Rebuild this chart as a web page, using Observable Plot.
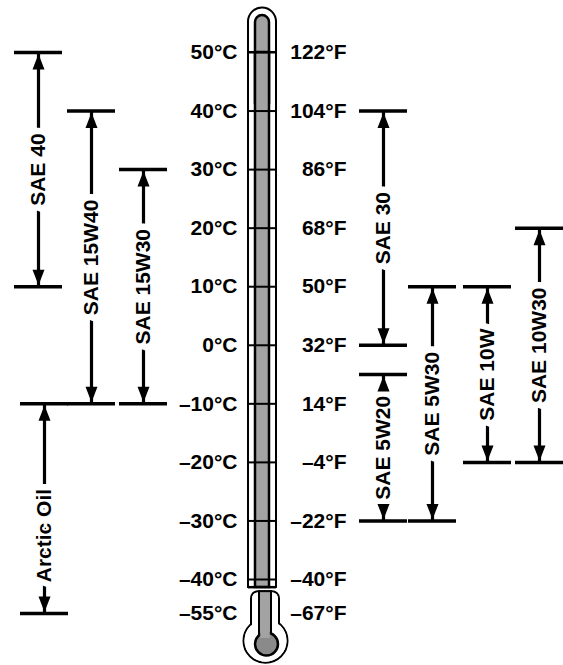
<!DOCTYPE html>
<html><head><meta charset="utf-8">
<script src="https://cdn.jsdelivr.net/npm/d3@7"></script>
<script src="https://cdn.jsdelivr.net/npm/@observablehq/plot@0.6"></script>
<style>html,body{margin:0;padding:0;background:#fff} svg{display:block}</style>
</head><body><div id="chart"></div>
<script>
// ---- data ----
const celsiusTicks = [50, 40, 30, 20, 10, 0, -10, -20, -30, -40, -55];
const celsiusLabels = ["50°C","40°C","30°C","20°C","10°C","0°C","–10°C","–20°C","–30°C","–40°C","–55°C"];
const fahrenheitLabels = ["122°F","104°F","86°F","68°F","50°F","32°F","14°F","–4°F","–22°F","–40°F","–67°F"];
const oilGrades = ["SAE 40","SAE 15W40","SAE 15W30","Arctic Oil","SAE 30","SAE 5W20","SAE 5W30","SAE 10W","SAE 10W30"];
const oilHighC = [50, 40, 30, -10, 40, -5, 10, 10, 20];
const oilLowC  = [10, -10, -10, -55, 0, -30, -30, -20, -20];

// ---- layout (not data) ----
const laneX = [38, 91, 143, 44, 383, 383, 432, 487, 539];
const capHalf = 24;
const tx = 262;           // thermometer centre
const tubeHalf = 14, colHalf = 7;
const font = "Liberation Sans, Arial, Helvetica, sans-serif";
// the scale below -40 °C is compressed on the thermometer
const squeeze = c => (c >= -40 ? c : -40 + (c + 40) * 0.387);

const oils = oilGrades.map((name, i) => ({
  name, hi: oilHighC[i], lo: oilLowC[i], x: laneX[i], mid: (oilHighC[i] + oilLowC[i]) / 2
}));
const scaleTicks = celsiusTicks.map((c, i) => ({c, cl: celsiusLabels[i], fl: fahrenheitLabels[i]}));

const arrowUp = {draw(ctx) { ctx.moveTo(0, 1.5); ctx.lineTo(6, 17); ctx.lineTo(-6, 17); ctx.closePath(); }};
const arrowDown = {draw(ctx) { ctx.moveTo(0, -1.5); ctx.lineTo(6, -17); ctx.lineTo(-6, -17); ctx.closePath(); }};

const one = [0];
const plot = Plot.plot({
  width: 563, height: 665,
  margin: 0,
  style: {background: "white", fontFamily: font},
  x: {type: "identity", axis: null},
  y: {type: "linear", transform: squeeze, domain: [-40, 50], range: [579, 52], axis: null},
  marks: [
    // thermometer tube (rounded top + body)
    Plot.rect(one, {x1: tx - tubeHalf, x2: tx + tubeHalf, y1: 57.6, y2: 40, rx: tubeHalf, fill: "white", stroke: "black", strokeWidth: 2}),
    Plot.rect(one, {x1: tx - tubeHalf, x2: tx + tubeHalf, y1: 50, y2: -43.5, fill: "white", stroke: "black", strokeWidth: 2}),
    // bulb outline (union of circle + neck)
    Plot.dot(one, {x: tx + 3, y: -67, r: 22, fill: "white", stroke: "black", strokeWidth: 2}),
    Plot.rect(one, {x1: tx - 11, x2: tx + 17, y1: -45.4, y2: -63, rx: 7, fill: "white", stroke: "black", strokeWidth: 2}),
    Plot.dot(one, {x: tx + 3, y: -67, r: 21, fill: "white"}),
    Plot.rect(one, {x1: tx - 10, x2: tx + 16, y1: -46, y2: -64, rx: 6, fill: "white"}),
    // liquid column
    Plot.rect(one, {x1: tx - colHalf, x2: tx + colHalf, y1: 56.3, y2: 40, rx: colHalf, fill: "#a3a3a3", stroke: "black", strokeWidth: 2.5}),
    Plot.rect(one, {x1: tx - colHalf, x2: tx + colHalf, y1: 50, y2: -43.5, fill: "#a3a3a3", stroke: "black", strokeWidth: 2.5}),
    Plot.rect(one, {x1: tx - 3, x2: tx + 9, y1: -45.4, y2: -66, fill: "#a3a3a3", stroke: "black", strokeWidth: 2}),
    Plot.dot(one, {x: tx + 4, y: -68.5, r: 11.5, fill: "#8a8a8a", stroke: "black", strokeWidth: 2.5}),
    Plot.rect(one, {x1: tx - 1.8, x2: tx + 7.8, y1: -46, y2: -66, fill: "#a3a3a3"}),
    // scale ticks across the tube
    Plot.ruleY(celsiusTicks.filter(c => c >= -40), {y: d => d, x1: tx - tubeHalf, x2: tx + tubeHalf, stroke: "black", strokeWidth: 2}),
    Plot.ruleY(one, {y: -43.5, x1: tx - tubeHalf, x2: tx + tubeHalf, stroke: "black", strokeWidth: 2}),
    // scale labels
    Plot.text(scaleTicks, {x: 237, y: "c", text: "cl", textAnchor: "end", fontSize: 21, fontWeight: "bold", fill: "black"}),
    Plot.text(scaleTicks, {x: 346, y: "c", text: "fl", textAnchor: "end", fontSize: 21, fontWeight: "bold", fill: "black"}),
    // oil ranges
    Plot.ruleX(oils, {x: "x", y1: "hi", y2: "lo", stroke: "black", strokeWidth: 3.2}),
    Plot.text(oils, {x: "x", y: "mid", text: "name", rotate: -90, fontSize: 21, fontWeight: "bold", fill: "black", stroke: "white", strokeWidth: 13}),
    Plot.ruleY(oils, {y: "hi", x1: d => d.x - capHalf, x2: d => d.x + capHalf, stroke: "black", strokeWidth: 3.5}),
    Plot.ruleY(oils, {y: "lo", x1: d => d.x - capHalf, x2: d => d.x + capHalf, stroke: "black", strokeWidth: 3.5}),
    Plot.dot(oils, {x: "x", y: "hi", symbol: arrowUp, r: 5, fill: "black", stroke: "none"}),
    Plot.dot(oils, {x: "x", y: "lo", symbol: arrowDown, r: 5, fill: "black", stroke: "none"})
  ]
});
document.getElementById("chart").appendChild(plot);
</script>
</body></html>
